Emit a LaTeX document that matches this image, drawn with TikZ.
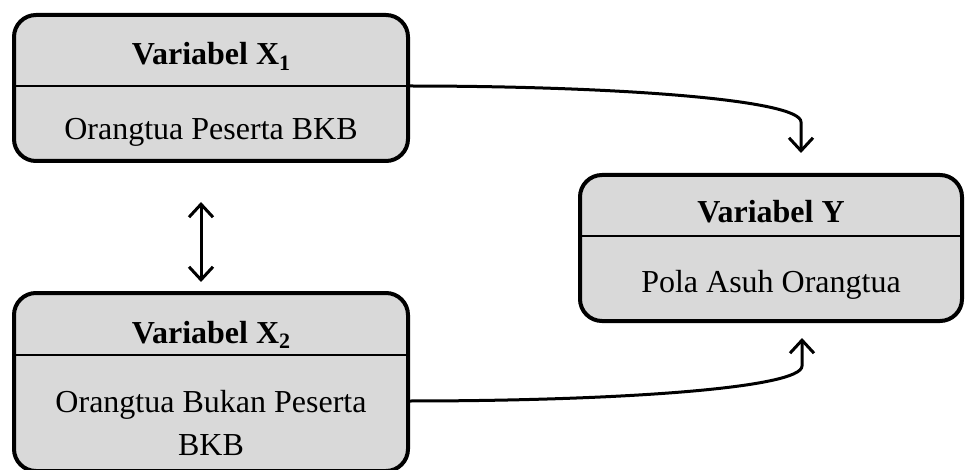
\documentclass[tikz,border=0pt]{standalone}
\usepackage{fontspec}
\setmainfont{Liberation Serif}
\usetikzlibrary{arrows.meta}
\definecolor{boxgray}{RGB}{217,217,217}
\newcommand{\subnum}[1]{\raisebox{-0.18em}{\fontsize{22}{22}\selectfont #1}}
\begin{document}
\begin{tikzpicture}[x=1pt,y=-1pt,
  varbox/.style={draw=black, fill=boxgray, line width=4pt, rounded corners=22pt, inner sep=0pt},
  divline/.style={draw=black, line width=2pt},
  title/.style={anchor=base, font=\fontsize{32}{38}\selectfont\bfseries, inner sep=0pt},
  body/.style={anchor=base, font=\fontsize{32}{38}\selectfont, inner sep=0pt},
  conn/.style={draw=black, line width=3pt, -{Straight Barb[length=13pt,width=24pt,line width=3pt]}},
  dconn/.style={draw=black, line width=3pt, {Straight Barb[length=13pt,width=24pt,line width=3pt]}-{Straight Barb[length=13pt,width=24pt,line width=3pt]}}
]
\useasboundingbox (0,0) rectangle (966,470);
% boxes
\node[varbox, minimum width=394pt, minimum height=146pt] (x1) at (211,88) {};
\node[varbox, minimum width=394pt, minimum height=178pt] (x2) at (211,382) {};
\node[varbox, minimum width=382pt, minimum height=146pt] (y) at (771,248) {};
% dividers
\draw[divline] (14,86) -- (408,86);
\draw[divline] (14,355) -- (408,355);
\draw[divline] (580,236) -- (962,236);
% texts
\node[title] (x1t) at (211,65) {Variabel X\subnum{1}};
\node[body] (x1b) at (211,140) {Orangtua Peserta BKB};
\node[title] (x2t) at (211,343) {Variabel X\subnum{2}};
\node[body] (x2b) at (211,412) {Orangtua Bukan Peserta};
\node[body] (x2c) at (211,455) {BKB};
\node[title] (yt) at (771,223) {Variabel Y};
\node[body] (yb) at (771,292) {Pola Asuh Orangtua};
% connector endpoints
\coordinate (a1s) at (408,86);
\coordinate (a1e) at (801,153);
\coordinate (a2s) at (408,401);
\coordinate (a2e) at (802,338);
\coordinate (d1) at (201,202);
\coordinate (d2) at (201,282);
% connectors
\draw[conn] (a1s) .. controls (620,86) and (801,100) .. (801,122) -- (a1e);
\draw[conn] (a2s) .. controls (620,401) and (802,388) .. (802,366) -- (a2e);
\draw[dconn] (d1) -- (d2);
\end{tikzpicture}
\end{document}
